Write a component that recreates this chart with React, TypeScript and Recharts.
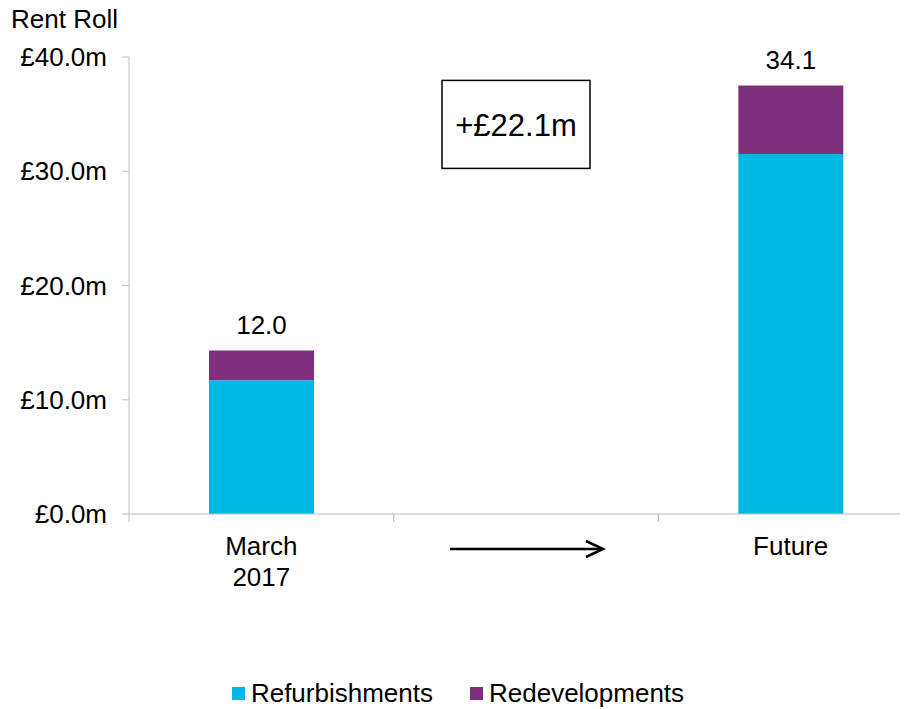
import { BarChart, Bar, XAxis, YAxis, LabelList, ReferenceDot } from 'recharts';

const FONT = '"Liberation Sans", Arial, sans-serif';
const REFURB_COLOR = '#00B8E5';
const REDEV_COLOR = '#7F307D';
const AXIS_COLOR = '#BFBFBF';

const categories = ['March 2017', 'arrow', 'Future'];
const refurbishments = [11.7, null, 31.5];
const redevelopments = [2.6, null, 6.0];
const totalLabels = ['12.0', '', '34.1'];
const yTicks = [0, 10, 20, 30, 40];
const changeLabel = '+£22.1m';
const changeLabelAt = 34.1;

const data = categories.map((name, i) => ({
    name,
    refurbishments: refurbishments[i],
    redevelopments: redevelopments[i],
    total: totalLabels[i],
}));

const WIDTH = 920;
const HEIGHT = 600;
const MARGIN = { top: 49, right: 5, left: 0, bottom: 34 };
const Y_AXIS_WIDTH = 121;
const HALF_BAND = (WIDTH - MARGIN.left - MARGIN.right - Y_AXIS_WIDTH) / categories.length / 2;
const FS = 26;

function CategoryTick(props: any) {
    const { x, y, payload } = props;
    const value: string = payload.value;
    let content;
    if (value === 'arrow') {
        // arrow between the two periods
        content = (
            <g stroke="#000" strokeWidth={2.5} fill="none">
                <line x1={x - 76} y1={y + 35} x2={x + 76} y2={y + 35} />
                <polyline points={`${x + 60},${y + 27} ${x + 77},${y + 35} ${x + 60},${y + 43}`} />
            </g>
        );
    } else {
        const lines = value.split(' ');
        content = lines.map((ln, i) => (
            <text key={i} x={x} y={y + 32 + i * 31} textAnchor="middle" dominantBaseline="central"
                fill="#000" fontSize={FS} fontFamily={FONT}>
                {ln}
            </text>
        ));
    }
    return (
        <g>
            <line x1={x - HALF_BAND} y1={y} x2={x - HALF_BAND} y2={y + 8} stroke={AXIS_COLOR} />
            <line x1={x + HALF_BAND} y1={y} x2={x + HALF_BAND} y2={y + 8} stroke={AXIS_COLOR} />
            {content}
        </g>
    );
}

function ChangeBox(props: any) {
    const { cx, cy } = props;
    const bx = cx - 10;
    return (
        <g>
            <rect x={bx - 74} y={cy - 44} width={148} height={88} fill="#fff" stroke="#000" strokeWidth={1.5} />
            <text x={bx} y={cy + 1} textAnchor="middle" dominantBaseline="central" fontSize={31} fontFamily={FONT} fill="#000">
                {changeLabel}
            </text>
        </g>
    );
}

export default function App() {
    return (
        <div style={{ position: 'relative', width: 900, height: 701, fontFamily: FONT }}>
            <div style={{ position: 'absolute', left: 3, top: -4, fontSize: FS, color: '#000', zIndex: 1 }}>
                Rent Roll
            </div>
            <div style={{ width: 900, height: HEIGHT, overflow: 'hidden' }}>
                <BarChart width={WIDTH} height={HEIGHT} data={data} margin={MARGIN} barSize={105}>
                    <XAxis
                        dataKey="name"
                        axisLine={{ stroke: AXIS_COLOR }}
                        tickLine={false}
                        tickSize={0}
                        tickMargin={0}
                        height={60}
                        interval={0}
                        tick={<CategoryTick />}
                    />
                    <YAxis
                        width={Y_AXIS_WIDTH}
                        domain={[0, 40]}
                        ticks={yTicks}
                        allowDataOverflow
                        axisLine={{ stroke: AXIS_COLOR }}
                        tickLine={{ stroke: AXIS_COLOR }}
                        tickSize={7}
                        tickMargin={15}
                        tickFormatter={(v: number) => `£${v.toFixed(1)}m`}
                        tick={{ fill: '#000', fontSize: FS, fontFamily: FONT }}
                    />
                    <Bar dataKey="refurbishments" stackId="a" fill={REFURB_COLOR} isAnimationActive={false} />
                    <Bar dataKey="redevelopments" stackId="a" fill={REDEV_COLOR} isAnimationActive={false}>
                        <LabelList dataKey="total" position="top" offset={17} fill="#000" fontSize={FS} fontFamily={FONT} />
                    </Bar>
                    <ReferenceDot x="arrow" y={changeLabelAt} shape={<ChangeBox />} />
                </BarChart>
            </div>
            <div style={{
                position: 'absolute', left: 0, top: 670, width: 900, height: 30,
                display: 'flex', justifyContent: 'center', alignItems: 'center', gap: 37,
                fontSize: FS, color: '#000',
            }}>
                {[['Refurbishments', REFURB_COLOR], ['Redevelopments', REDEV_COLOR]].map(([label, color]) => (
                    <div key={label} style={{ display: 'flex', alignItems: 'center', gap: 6 }}>
                        <span style={{ display: 'inline-block', width: 13, height: 13, background: color }} />
                        <span>{label}</span>
                    </div>
                ))}
            </div>
        </div>
    );
}
